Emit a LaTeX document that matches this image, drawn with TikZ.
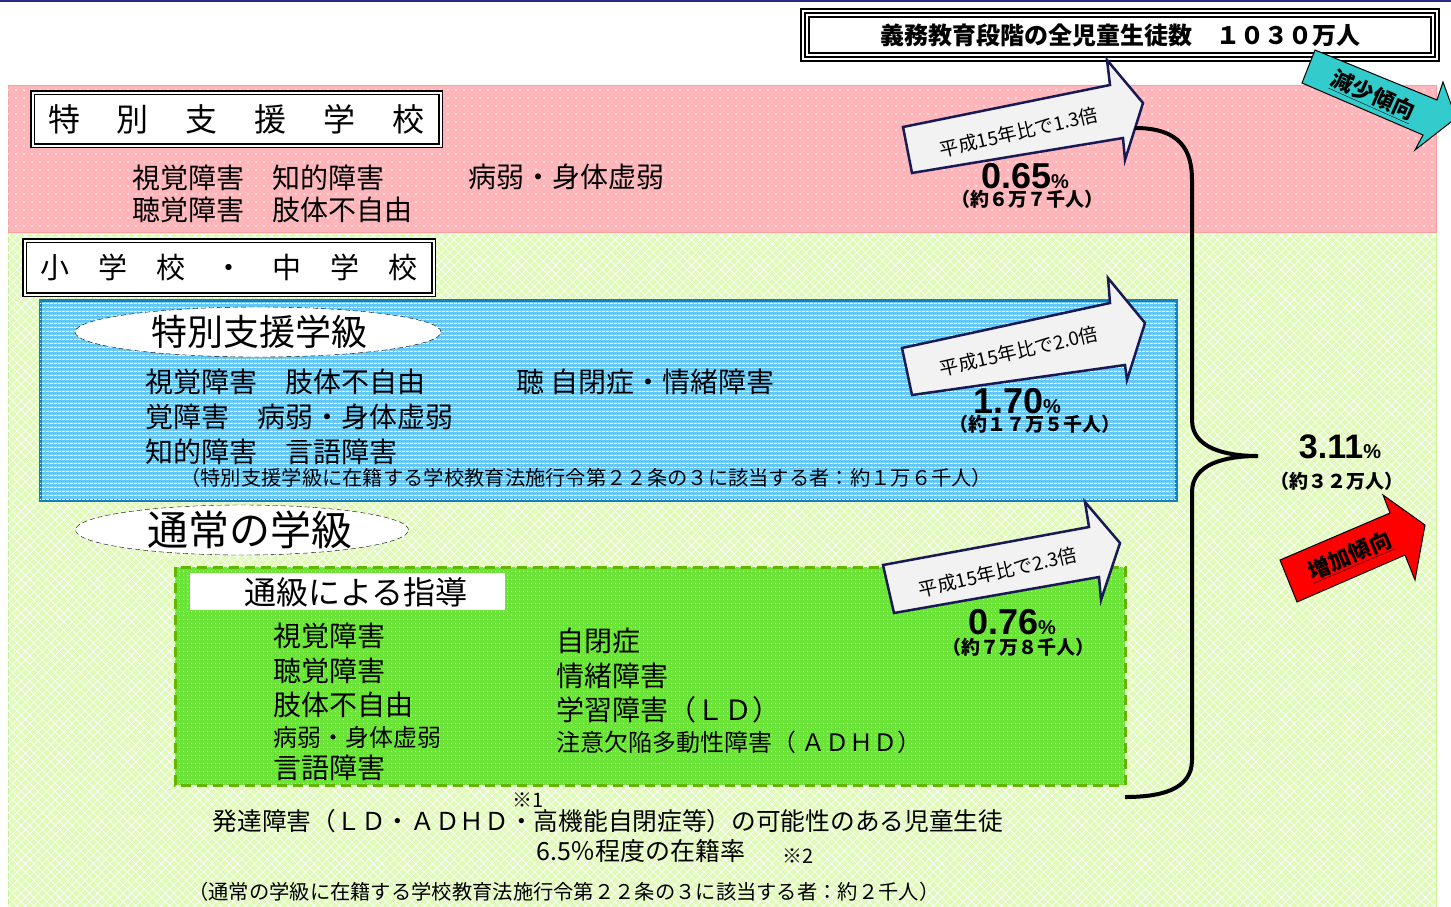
\documentclass[tikz,border=0pt]{standalone}
\usepackage{fontspec}
\setmainfont{Noto Sans CJK JP}
\newfontfamily\lat{Liberation Sans}
\usepackage{tikz}
\usetikzlibrary{shapes.geometric, patterns.meta, positioning}

\definecolor{pinkbg}{RGB}{255,182,186}
\definecolor{pinkline}{RGB}{250,160,160}
\definecolor{greenbg}{RGB}{224,250,184}
\definecolor{greenedge}{RGB}{200,240,150}
\definecolor{bluebg}{RGB}{95,200,250}
\definecolor{blueline}{RGB}{20,128,190}
\definecolor{brightgreen}{RGB}{105,228,55}
\definecolor{greenline}{RGB}{100,180,0}
\definecolor{arrowfill}{RGB}{242,242,242}
\definecolor{arrowline}{RGB}{25,25,85}
\definecolor{cyanarrow}{RGB}{51,204,204}
\definecolor{topline}{RGB}{40,40,140}

\begin{document}
\begin{tikzpicture}[x=1pt, y=-1pt,
	list/.style={anchor=west, inner sep=0pt, font=\fontsize{28}{30}\selectfont},
	smalllist/.style={anchor=west, inner sep=0pt, font=\fontsize{24}{26}\selectfont},
	note/.style={anchor=west, inner sep=0pt, font=\fontsize{20.3}{22}\selectfont},
	headbox/.style={draw, fill=white, line width=1.5pt, double=white, double distance=2pt, inner sep=0pt},
	ovalbox/.style={ellipse, draw, dash pattern=on 5pt off 3pt, fill=white, inner sep=0pt},
	growarrow/.style={fill=arrowfill, draw=arrowline, line width=2.5pt, line join=miter},
	arrowtext/.style={inner sep=0pt, font=\fontsize{19}{19}\selectfont},
	pct/.style={inner sep=0pt, font=\lat\bfseries\fontsize{36}{36}\selectfont},
	count/.style={inner sep=0pt, font=\bfseries\fontsize{19}{19}\selectfont},
	starmark/.style={inner sep=0pt, font=\fontsize{20}{20}\selectfont}]
	\useasboundingbox (0,0) rectangle (1451,906);
	\fill[white] (0,0) rectangle (1451,906);
	\draw[topline, line width=1.5pt] (0,0.75) -- (1451,0.75);
	
	% background bands
	\path[fill=greenbg, draw=greenedge, postaction={pattern={Hatch[distance=6pt, angle=45, line width=0.7pt]}, pattern color=white}] (8,232) rectangle (1436,912);
	\path[fill=pinkbg, draw=pinkline, postaction={pattern={Dots[distance=8pt, radius=0.9pt]}, pattern color=white}] (8,85) rectangle (1436,232);
	
	% total
	\node[draw, line width=2pt, double=white, double distance=2.5pt, minimum width=634pt, minimum height=48pt, inner sep=0pt] (titleFrame) at (1120,35) {};
	\node[draw, line width=1.2pt, fill=white, minimum width=622pt, minimum height=36pt, inner sep=0pt, font=\bfseries\fontsize{24}{24}\selectfont] (title) at (1120,35) {義務教育段階の全児童生徒数　１０３０万人};
	
	% special support schools
	\node[headbox, minimum width=408pt, minimum height=53pt, font=\fontsize{32}{32}\selectfont] (schoolHead) at (236.5,119) {特\hspace{37pt}別\hspace{37pt}支\hspace{37pt}援\hspace{37pt}学\hspace{37pt}校};
	\node[list] (sA1) at (132,178) {視覚障害　知的障害};
	\node[list] (sA2) at (132,210) {聴覚障害　肢体不自由};
	\node[list] (sA3) at (468,177) {病弱・身体虚弱};
	
	% elementary and junior high
	\node[headbox, minimum width=409pt, minimum height=54pt, font=\fontsize{29}{29}\selectfont] (juniorHead) at (229,267.5) {小　学　校　・　中　学　校};
	
	% special support classes
	\path[fill=bluebg, postaction={pattern={Lines[distance=4pt, line width=1.3pt]}, pattern color=white}, draw=blueline, line width=3pt] (40,300) rectangle (1176,500);
	\node[ovalbox, minimum width=366pt, minimum height=50pt] (classOval) at (258,332) {};
	\node[font=\fontsize{36}{36}\selectfont, inner sep=0pt] (classHead) at (259,332) {特別支援学級};
	\node[list] (cA1) at (145,382) {視覚障害　肢体不自由};
	\node[list] (cA2) at (516,382) {聴 自閉症・情緒障害};
	\node[list] (cA3) at (145,417) {覚障害　病弱・身体虚弱};
	\node[list] (cA4) at (145,452) {知的障害　言語障害};
	\node[note] (cNote) at (180,478) {（特別支援学級に在籍する学校教育法施行令第２２条の３に該当する者：約１万６千人）};
	
	% regular classes
	\node[ovalbox, minimum width=333pt, minimum height=50pt] (regOval) at (242,530) {};
	\node[font=\fontsize{41}{41}\selectfont, inner sep=0pt] (regHead) at (250,530) {通常の学級};
	
	% resource room
	\path[fill=brightgreen, postaction={pattern={Dots[distance=4pt, radius=0.8pt]}, pattern color=white!65!brightgreen}] (175,567) rectangle (1125,785);
	\draw[greenline, line width=3pt, dash pattern=on 10pt off 6pt] (175,567) rectangle (1125,785);
	\fill[white] (190,573) rectangle (505,610);
	\node[font=\fontsize{32}{32}\selectfont, inner sep=0pt] (roomHead) at (356,592) {通級による指導};
	\node[list] (rA1) at (273,636) {視覚障害};
	\node[list] (rA2) at (273,671) {聴覚障害};
	\node[list] (rA3) at (273,705) {肢体不自由};
	\node[smalllist] (rA4) at (273,737) {病弱・身体虚弱};
	\node[list] (rA5) at (273,768) {言語障害};
	\node[list] (rB1) at (556,641) {自閉症};
	\node[list] (rB2) at (556,676) {情緒障害};
	\node[list] (rB3) at (556,710) {学習障害（ＬＤ）};
	\node[smalllist] (rB4) at (556,742) {注意欠陥多動性障害（ ＡＤＨＤ）};
	
	% developmental disorders
	\node[font=\fontsize{24.7}{25}\selectfont, inner sep=0pt] (devLine) at (608,821) {発達障害（ＬＤ・ＡＤＨＤ・高機能自閉症等）の可能性のある児童生徒};
	\node[starmark] (mark1) at (528,800) {※1};
	\node[font=\fontsize{25}{25}\selectfont, inner sep=0pt, anchor=west] (devRate) at (536,851) {6.5％程度の在籍率};
	\node[starmark] (mark2) at (798,856) {※2};
	\node[note] (regNote) at (188,892) {（通常の学級に在籍する学校教育法施行令第２２条の３に該当する者：約２千人）};
	
	% growth arrows
	\draw[growarrow] (903,127) -- (1110,85) -- (1107,60) -- (1143,103) -- (1125,160) -- (1123,138) -- (912,173) -- cycle;
	\node[arrowtext, rotate=13] (ratioA) at (1019,132) {平成15年比で1.3倍};
	\draw[growarrow] (902,348) -- (1110,303) -- (1108,278) -- (1145,323) -- (1127,380) -- (1125,365) -- (912,395) -- cycle;
	\node[arrowtext, rotate=13] (ratioB) at (1019,351) {平成15年比で2.0倍};
	\draw[growarrow] (883,565) -- (1089,527) -- (1085,502) -- (1120,543) -- (1101,600) -- (1099,577) -- (894,613) -- cycle;
	\node[arrowtext, rotate=13] (ratioC) at (998,572) {平成15年比で2.3倍};
	
	% rates
	\node[pct] (pctA) at (1025,176) {0.65{\fontsize{20}{20}\selectfont\%}};
	\node[count] (numA) at (1027,199) {（約６万７千人）};
	\node[pct] (pctB) at (1017,401) {1.70{\fontsize{20}{20}\selectfont\%}};
	\node[count] (numB) at (1035,424) {（約１７万５千人）};
	\node[pct] (pctC) at (1012,622) {0.76{\fontsize{20}{20}\selectfont\%}};
	\node[count] (numC) at (1018,647) {（約７万８千人）};
	\node[pct, font=\lat\bfseries\fontsize{34}{34}\selectfont] (pctAll) at (1340,447) {3.11{\fontsize{20}{20}\selectfont\%}};
	\node[count] (numAll) at (1337,481) {（約３２万人）};
	
	% brace
	\coordinate (braceTop) at (1135,128);
	\coordinate (braceTip) at (1258,456);
	\coordinate (braceBot) at (1125,797);
	\draw[line width=4pt] (braceTop) .. controls (1180,128) and (1192,150) .. (1192,180) -- (1192,420) .. controls (1192,448) and (1225,456) .. (braceTip) .. controls (1225,456) and (1192,464) .. (1192,492) -- (1192,760) .. controls (1192,790) and (1160,797) .. (braceBot);
	
	% trends
	\draw[fill=cyanarrow, line width=1pt] (1315,50) -- (1437,100) -- (1443,82) -- (1456,118) -- (1415,150) -- (1423,135) -- (1302,83) -- cycle;
	\node[inner sep=0pt, rotate=-24, font=\bfseries\fontsize{22}{22}\selectfont] (fallText) at (1373,96) {\underline{減少傾向}};
	\draw[fill=red, line width=1pt] (1280,560) -- (1390,513) -- (1383,495) -- (1425,525) -- (1415,580) -- (1405,555) -- (1297,602) -- cycle;
	\node[inner sep=0pt, rotate=23, font=\bfseries\fontsize{22}{22}\selectfont] (riseText) at (1350,556) {\underline{増加傾向}};
\end{tikzpicture}
\end{document}
